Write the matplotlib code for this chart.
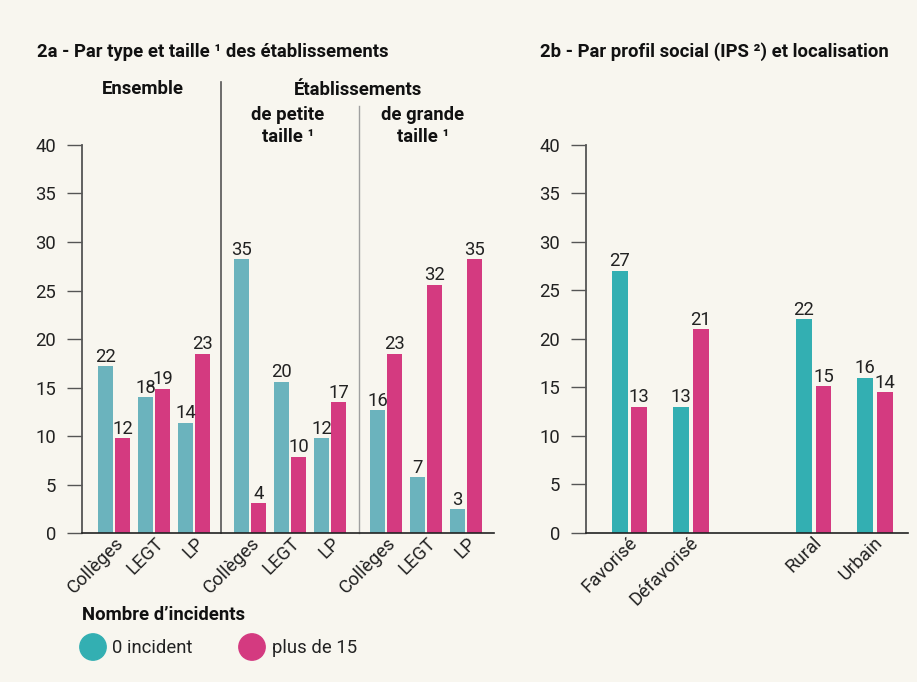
import numpy as np
import matplotlib
matplotlib.use("Agg")
import matplotlib.pyplot as plt
from matplotlib.transforms import ScaledTranslation

plt.rcParams['font.family'] = ['Roboto', 'DejaVu Sans']

# Data (2a) - bar heights as drawn, and printed labels
cat_2a = ['Collèges', 'LEGT', 'LP', 'Collèges', 'LEGT', 'LP', 'Collèges', 'LEGT', 'LP']
zero_2a = [17.2, 14.0, 11.4, 28.2, 15.6, 9.8, 12.7, 5.8, 2.5]
plus_2a = [9.8, 14.9, 18.5, 3.1, 7.9, 13.5, 18.5, 25.6, 28.2]
zero_2a_lab = [22, 18, 14, 35, 20, 12, 16, 7, 3]
plus_2a_lab = [12, 19, 23, 4, 10, 17, 23, 32, 35]

# Data (2b)
cat_2b = ['Favorisé', 'Défavorisé', 'Rural', 'Urbain']
zero_2b = [27, 13, 22, 16]
plus_2b = [13, 21, 15.1, 14.5]
zero_2b_lab = [27, 13, 22, 16]
plus_2b_lab = [13, 21, 15, 14]

teal_a = '#6bb3bd'
teal_b = '#33afb2'
pink = '#d43a80'
bg = '#f8f6ef'
W, H = 917, 682
FS = 13.3

fig = plt.figure(figsize=(W / 100, H / 100), dpi=100, facecolor=bg)

def rect(x0, y0, x1, y1):
    return [x0 / W, 1 - y1 / H, (x1 - x0) / W, (y1 - y0) / H]

ytop = (533.3 - 82) / 9.71

def style(ax, cats, dx):
    ax.set_facecolor('none')
    ax.set_ylim(0, ytop)
    ax.set_yticks(range(0, 45, 5))
    for s in ['top', 'right']:
        ax.spines[s].set_visible(False)
    ax.spines['left'].set_bounds(0, 40)
    ax.spines['left'].set_color('#555555')
    ax.spines['left'].set_linewidth(1.3)
    ax.spines['bottom'].set_color('#222222')
    ax.spines['bottom'].set_linewidth(1.2)
    ax.tick_params(axis='y', length=11, width=1, color='#555555', labelsize=FS, pad=7.5, labelcolor='#222222')
    ax.tick_params(axis='x', length=0, labelsize=FS, pad=5, labelcolor='#222222')
    ax.set_xticklabels(cats, rotation=45, ha='right', va='center', rotation_mode='anchor')
    shift = ScaledTranslation(dx / 100, 0, fig.dpi_scale_trans)
    for t in ax.get_xticklabels():
        t.set_transform(t.get_transform() + shift)

def labels(ax, xs, hs, labs):
    for x, h, l in zip(xs, hs, labs):
        ax.annotate(str(l), (x, h), xytext=(0, 0.3), textcoords='offset points',
                    ha='center', va='bottom', fontsize=FS, color='#222222')

# Panel 2a
ax1 = fig.add_axes(rect(81.7, 82, 494, 533.3))
pos_a = np.array([0, 1, 2, 3.4, 4.4, 5.4, 6.8, 7.8, 8.8])
bw_a, off_a = 0.36, 0.21
ax1.bar(pos_a - off_a, zero_2a, bw_a, color=teal_a)
ax1.bar(pos_a + off_a, plus_2a, bw_a, color=pink)
labels(ax1, pos_a - off_a, zero_2a, zero_2a_lab)
labels(ax1, pos_a + off_a, plus_2a, plus_2a_lab)
ax1.set_xlim(-0.81, 9.5)
ax1.set_xticks(pos_a)
style(ax1, cat_2a, 7)
ax1.plot([2.675, 2.675], [0, ytop], color='#555555', lw=1.2, clip_on=False)
ax1.plot([6.125, 6.125], [0, (533.3 - 106) / 9.71], color='#a0a0a0', lw=1, clip_on=False)

# Panel 2b
ax2 = fig.add_axes(rect(585.7, 82, 908, 532.7))
pos_b = np.array([0, 1, 3, 4])
bw_b, off_b = 0.26, 0.16
ax2.bar(pos_b - off_b, zero_2b, bw_b, color=teal_b)
ax2.bar(pos_b + off_b, plus_2b, bw_b, color=pink)
labels(ax2, pos_b - off_b, zero_2b, zero_2b_lab)
labels(ax2, pos_b + off_b, plus_2b, plus_2b_lab)
ax2.set_xlim(-0.713, 4.536)
ax2.set_xticks(pos_b)
style(ax2, cat_2b, 5)

# Overlay in pixel coordinates for titles, headers and legend
ov = fig.add_axes([0, 0, 1, 1])
ov.set_xlim(0, W)
ov.set_ylim(H, 0)
ov.axis('off')
ov.patch.set_alpha(0)

bold = dict(fontsize=FS, fontweight='bold', color='#111111')
ov.text(37, 52, '2a - Par type et taille ¹ des établissements', ha='left', va='center', **bold)
ov.text(540, 52, '2b - Par profil social (IPS ²) et localisation', ha='left', va='center', **bold)
ov.text(143, 89, 'Ensemble', ha='center', va='center', **bold)
ov.text(358, 90, 'Établissements', ha='center', va='center', **bold)
ov.text(288, 126, 'de petite\ntaille ¹', ha='center', va='center', linespacing=1.3, **bold)
ov.text(423, 126, 'de grande\ntaille ¹', ha='center', va='center', linespacing=1.3, **bold)

ov.text(82, 615, 'Nombre d’incidents', ha='left', va='center', **bold)
ov.scatter([93, 252], [647, 647], s=360, color=[teal_b, pink], clip_on=False)
ov.text(112, 648, '0 incident', ha='left', va='center', fontsize=FS, color='#222222')
ov.text(272, 648, 'plus de 15', ha='left', va='center', fontsize=FS, color='#222222')

fig.savefig('out.png', dpi=100, facecolor=bg)
